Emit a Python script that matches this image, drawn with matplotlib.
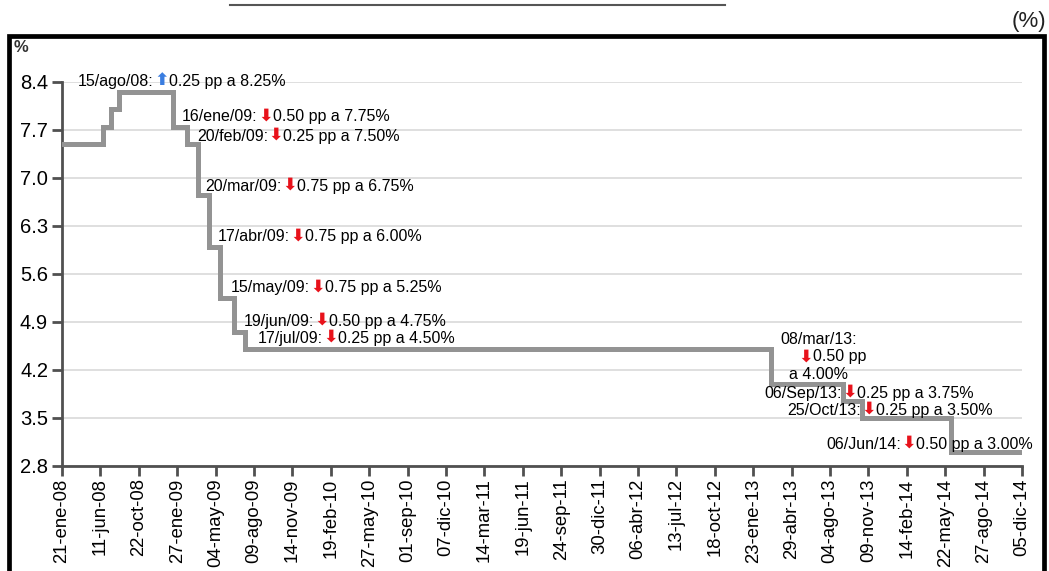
import numpy as np
import matplotlib
matplotlib.use("Agg")
import matplotlib.pyplot as plt
from matplotlib.patches import Rectangle
from matplotlib.lines import Line2D

plt.rcParams["font.family"] = ["Liberation Sans", "DejaVu Sans"]

# Etiquetas del eje horizontal (espaciado uniforme)
tick_dates = [
    "2008-01-21", "2008-06-11", "2008-10-22", "2009-01-27", "2009-05-04",
    "2009-08-09", "2009-11-14", "2010-02-19", "2010-05-27", "2010-09-01",
    "2010-12-07", "2011-03-14", "2011-06-19", "2011-09-24", "2011-12-30",
    "2012-04-06", "2012-07-13", "2012-10-18", "2013-01-23", "2013-04-29",
    "2013-08-04", "2013-11-09", "2014-02-14", "2014-05-22", "2014-08-27",
    "2014-12-05",
]
tick_labels = [
    "21-ene-08", "11-jun-08", "22-oct-08", "27-ene-09", "04-may-09",
    "09-ago-09", "14-nov-09", "19-feb-10", "27-may-10", "01-sep-10",
    "07-dic-10", "14-mar-11", "19-jun-11", "24-sep-11", "30-dic-11",
    "06-abr-12", "13-jul-12", "18-oct-12", "23-ene-13", "29-abr-13",
    "04-ago-13", "09-nov-13", "14-feb-14", "22-may-14", "27-ago-14",
    "05-dic-14",
]

# Tasa objetivo: fecha de cambio y nivel vigente desde esa fecha
change_dates = [
    "2008-01-21", "2008-06-20", "2008-07-18", "2008-08-15", "2009-01-16",
    "2009-02-20", "2009-03-20", "2009-04-17", "2009-05-15", "2009-06-19",
    "2009-07-17", "2013-03-08", "2013-09-06", "2013-10-25", "2014-06-06",
    "2014-12-05",
]
rates = [
    7.50, 7.75, 8.00, 8.25, 7.75,
    7.50, 6.75, 6.00, 5.25, 4.75,
    4.50, 4.00, 3.75, 3.50, 3.00,
    3.00,
]

# Anuncios: fecha, flecha (1 alza, -1 baja), resto del texto
note_dates = ["15/ago/08:", "16/ene/09:", "20/feb/09:", "20/mar/09:",
              "17/abr/09:", "15/may/09:", "19/jun/09:", "17/jul/09:",
              "06/Sep/13:", "25/Oct/13:", "06/Jun/14:"]
note_dirs = [1, -1, -1, -1, -1, -1, -1, -1, -1, -1, -1]
note_texts = ["0.25 pp a 8.25%", "0.50 pp a 7.75%", "0.25 pp a 7.50%",
              "0.75 pp a 6.75%", "0.75 pp a 6.00%", "0.75 pp a 5.25%",
              "0.50 pp a 4.75%", "0.25 pp a 4.50%", "0.25 pp a 3.75%",
              "0.25 pp a 3.50%", "0.50 pp a 3.00%"]
# posición (índice de eje x, nivel y) de cada anuncio
note_pos = [(0.42, 8.40), (3.13, 7.89), (3.52, 7.61), (3.73, 6.88),
            (4.05, 6.14), (4.39, 5.40), (4.73, 4.91), (5.09, 4.66),
            (18.30, 3.86), (18.88, 3.61), (19.90, 3.12)]

y_ticks = [2.8, 3.5, 4.2, 4.9, 5.6, 6.3, 7.0, 7.7, 8.4]

# convertir fechas a posición sobre el eje de categorías
tick_days = np.array(tick_dates, dtype="datetime64[D]").astype(float)
chg_days = np.array(change_dates, dtype="datetime64[D]").astype(float)
x_steps = np.interp(chg_days, tick_days, np.arange(len(tick_dates)))

FS = 11.5
UP, DOWN = "#3a7de0", "#e8121b"

fig = plt.figure(figsize=(10.49, 5.71), dpi=100)
ax = fig.add_axes([0.0591, 0.1839, 0.9152, 0.6725])

ax.step(x_steps, rates, where="post", color="#939393", lw=3.6,
        solid_joinstyle="miter", zorder=3)

ax.set_xlim(0, len(tick_dates) - 1)
ax.set_ylim(2.8, 8.4)
ax.set_yticks(y_ticks)
ax.set_yticklabels([f"{v:.1f}" for v in y_ticks], fontsize=14.5)
ax.set_xticks(np.arange(len(tick_labels)))
ax.set_xticklabels(tick_labels, rotation=90, fontsize=13.3)

ax.grid(axis="y", color="#d9d9d9", lw=1.2, zorder=0)
for side in ["top", "right"]:
    ax.spines[side].set_visible(False)
for side in ["left", "bottom"]:
    ax.spines[side].set_color("#505050")
    ax.spines[side].set_linewidth(2)
ax.tick_params(axis="both", direction="out", length=7, width=2,
               color="#505050", pad=3)
ax.tick_params(axis="x", pad=2)


def chained_note(x, y, date, arrow, rest, size=FS):
    t1 = ax.text(x, y, date, fontsize=size, va="center", ha="left",
                 color="black", zorder=5, clip_on=False)
    sym = "\u2b06" if arrow > 0 else "\u2b07"
    col = UP if arrow > 0 else DOWN
    t2 = ax.annotate(sym, xy=(1, 0), xycoords=t1, xytext=(0.2, 0),
                     textcoords="offset points", va="bottom", ha="left",
                     fontsize=size + 1, color=col, fontweight="bold",
                     zorder=5, family="DejaVu Sans")
    ax.annotate(rest, xy=(1, 0), xycoords=(t2, t1), xytext=(0.2, 0),
                textcoords="offset points", va="bottom", ha="left",
                fontsize=size, color="black", zorder=5)
    return t2


for d, a, r, (px, py) in zip(note_dates, note_dirs, note_texts, note_pos):
    chained_note(px, py, d, a, r)

# anuncio de marzo 2013 en tres renglones
ax.text(19.71, 4.64, "08/mar/13:", fontsize=FS, ha="center", va="center",
        color="black", zorder=5)
ax.text(19.55, 4.40, "\u2b07", fontsize=FS + 1, ha="right", va="center",
        color=DOWN, fontweight="bold", family="DejaVu Sans", zorder=5)
ax.text(19.56, 4.39, "0.50 pp", fontsize=FS, ha="left", va="center",
        color="black", zorder=5)
ax.text(19.71, 4.13, "a 4.00%", fontsize=FS, ha="center", va="center",
        color="black", zorder=5)

# marco, unidades y subrayado del encabezado
fig.patches.append(Rectangle((9 / 1049, -0.05), 1035 / 1049, 1.05 - 36 / 571,
                             transform=fig.transFigure, fill=False,
                             ec="black", lw=3.4))
fig.text(14 / 1049, 1 - 48 / 571, "%", fontsize=12, fontweight="bold",
         color="#333333", va="center", ha="left")
fig.text(1046 / 1049, 1 - 22 / 571, "(%)", fontsize=16, color="#222222",
         va="center", ha="right")
fig.lines.append(Line2D([230 / 1049, 725 / 1049], [1 - 5 / 571, 1 - 5 / 571],
                        transform=fig.transFigure, color="#555555", lw=1.5))

fig.savefig("out.png", dpi=100)
